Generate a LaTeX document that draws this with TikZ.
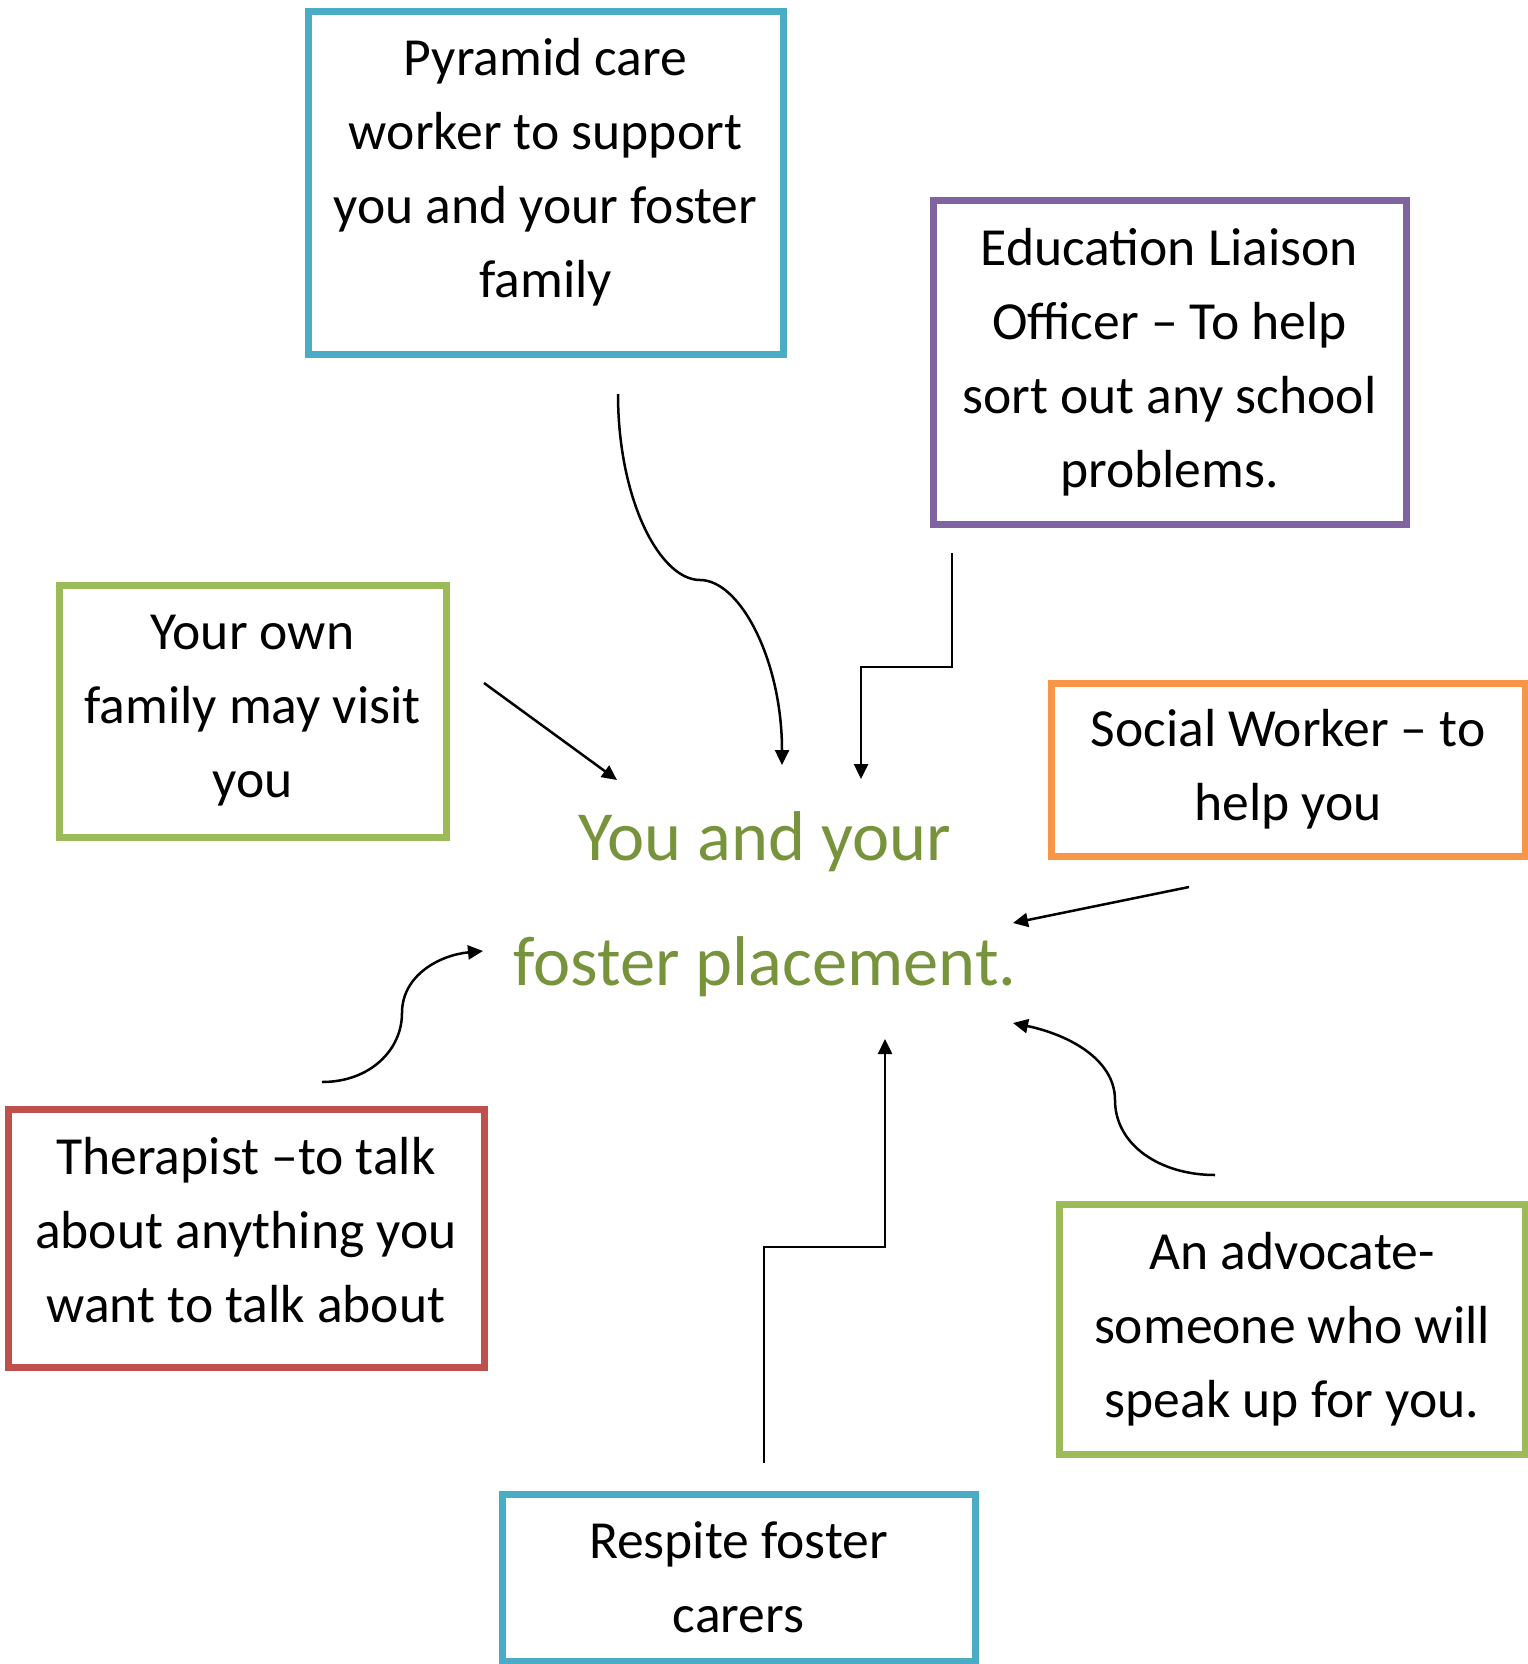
\documentclass[tikz,border=0pt]{standalone}
\usepackage{fontspec}
\setmainfont{Carlito}
\usepackage{tikz}
\usetikzlibrary{arrows.meta,calc}
\tikzset{every node/.append style={align=center}}
\definecolor{boxblue}{RGB}{75, 172, 198}
\definecolor{boxpurple}{RGB}{128, 100, 162}
\definecolor{boxgreen}{RGB}{155, 187, 89}
\definecolor{boxorange}{RGB}{247, 150, 70}
\definecolor{boxred}{RGB}{192, 80, 77}
\definecolor{centregreen}{RGB}{119, 147, 60}

\begin{document}
\begin{tikzpicture}[
    x=0.5pt, y=-0.5pt,
    helper/.style={draw, line width=3.5pt, inner sep=0pt, font=\fontsize{26.8}{37}\selectfont},
    centre/.style={text=centregreen, font=\fontsize{35.2}{62.5}\selectfont},
    flow/.style={-{Triangle[length=7.5pt,width=7pt]}, line width=1.25pt}
]
    \useasboundingbox (0,0) rectangle (1527,1664);

    % Centre
    \node[centre] (placement) at (765,904) {You and your\\foster placement.};

    % Helpers round the placement
    \node[helper, draw=boxblue, minimum width=237.5pt, minimum height=171pt, text depth=15pt] (pyramid) at (545.5,183) {Pyramid care\\worker to support\\you and your foster\\family};
    \node[helper, draw=boxpurple, minimum width=236.5pt, minimum height=161.5pt] (education) at (1169.5,362.5) {Education Liaison\\Officer – To help\\sort out any school\\problems.};
    \node[helper, draw=boxgreen, minimum width=193.5pt, minimum height=126pt] (family) at (252.5,711) {Your own\\family may visit\\you};
    \node[helper, draw=boxorange, minimum width=237pt, minimum height=86.5pt] (social) at (1288,769.5) {Social Worker – to\\help you};
    \node[helper, draw=boxred, minimum width=238pt, minimum height=129pt, text depth=8.5pt] (therapist) at (246,1238) {Therapist –to talk\\about anything you\\want to talk about};
    \node[helper, draw=boxgreen, minimum width=233pt, minimum height=125pt] (advocate) at (1292,1329) {An advocate-\\someone who will\\speak up for you.};
    \node[helper, draw=boxblue, minimum width=236.5pt, minimum height=83.5pt] (respite) at (738.5,1577.5) {Respite foster\\carers};

    % Arrow ends
    \coordinate (pyrstart) at (618,394);
    \coordinate (pyrend) at (782,765);
    \coordinate (edustart) at (952,553);
    \coordinate (eduend) at (861,779);
    \coordinate (famstart) at (484,683);
    \coordinate (famend) at (617,780);
    \coordinate (socstart) at (1189,887);
    \coordinate (socend) at (1013,923);
    \coordinate (thestart) at (322,1082);
    \coordinate (theend) at (483,951);
    \coordinate (advstart) at (1215,1175);
    \coordinate (advend) at (1013,1023);
    \coordinate (resstart) at (764,1463);
    \coordinate (resend) at (885,1039);

    % Flows
    \draw[flow] (pyrstart) .. controls (618,500) and (660,580) .. (700,580) .. controls (740,580) and (782,660) .. (pyrend);
    \draw[flow] (edustart) -- ++(0,114) -| (eduend);
    \draw[flow] (famstart) -- (famend);
    \draw[flow] (socstart) -- (socend);
    \draw[flow] (thestart) .. controls (370,1082) and (402,1050) .. (402,1013) .. controls (402,975) and (440,955) .. (theend);
    \draw[flow] (advstart) .. controls (1160,1175) and (1115,1145) .. (1115,1100) .. controls (1115,1060) and (1070,1035) .. (advend);
    \draw[flow] (resstart) -- ++(0,-216) -| (resend);

\end{tikzpicture}
\end{document}
